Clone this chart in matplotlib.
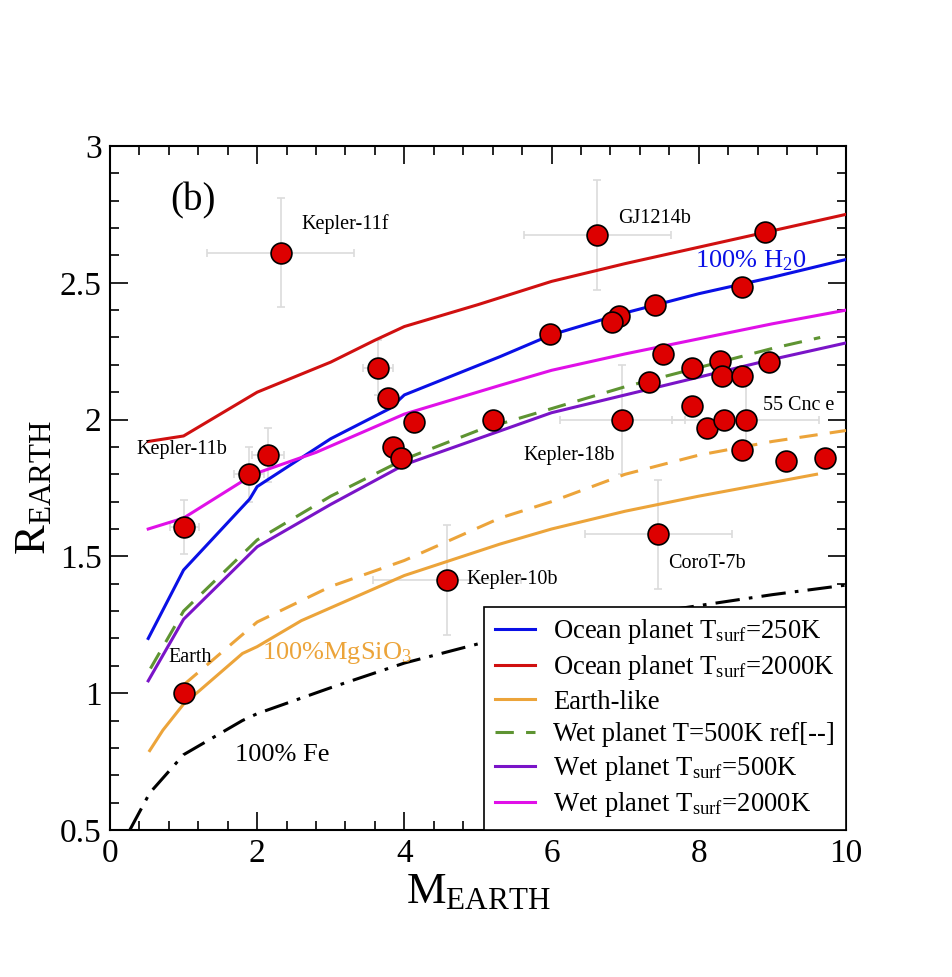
import numpy as np
import matplotlib
matplotlib.use("Agg")
from matplotlib import pyplot as plt

plt.rcParams['font.family'] = ['Liberation Serif', 'DejaVu Serif']
plt.rcParams['mathtext.fontset'] = 'custom'
plt.rcParams['mathtext.rm'] = 'Liberation Serif'
plt.rcParams['mathtext.it'] = 'Liberation Serif:italic'

# model curves (mass in Earth masses, radius in Earth radii)
ocean_250_m = [0.52, 1.0, 1.9, 2.0, 3.0, 3.8, 4.0, 5.3, 6.0, 7.0, 8.0, 9.0, 10.0]
ocean_250_r = [1.20, 1.45, 1.71, 1.755, 1.93, 2.04, 2.09, 2.23, 2.31, 2.39, 2.46, 2.52, 2.585]

ocean_2000_m = [0.52, 1.0, 2.0, 3.0, 3.6, 4.0, 5.0, 6.0, 7.0, 8.0, 9.0, 10.0]
ocean_2000_r = [1.92, 1.94, 2.10, 2.21, 2.29, 2.34, 2.42, 2.505, 2.57, 2.63, 2.69, 2.75]

earth_m = [0.54, 0.72, 1.0, 1.22, 1.8, 2.0, 2.6, 4.0, 5.3, 6.0, 7.0, 8.0, 9.0, 9.6]
earth_r = [0.79, 0.865, 0.96, 1.01, 1.145, 1.17, 1.265, 1.43, 1.545, 1.60, 1.665, 1.72, 1.77, 1.80]

earth_ref_m = [1.0, 2.0, 3.0, 4.0, 5.3, 6.0, 7.0, 8.0, 9.0, 10.0]
earth_ref_r = [1.03, 1.26, 1.39, 1.485, 1.64, 1.70, 1.80, 1.87, 1.92, 1.96]

wet_ref_m = [0.55, 1.0, 2.0, 3.0, 4.0, 5.0, 6.0, 7.0, 8.0, 9.0, 9.65]
wet_ref_r = [1.09, 1.30, 1.56, 1.72, 1.855, 1.96, 2.04, 2.12, 2.19, 2.26, 2.30]

wet_500_m = [0.52, 1.0, 2.0, 3.0, 4.0, 5.0, 6.0, 7.0, 8.0, 9.0, 10.0]
wet_500_r = [1.045, 1.27, 1.535, 1.69, 1.835, 1.93, 2.025, 2.09, 2.155, 2.22, 2.28]

wet_2000_m = [0.52, 1.0, 1.95, 2.8, 4.0, 5.3, 6.0, 7.0, 8.0, 9.0, 10.0]
wet_2000_r = [1.60, 1.64, 1.80, 1.88, 2.02, 2.125, 2.18, 2.24, 2.295, 2.35, 2.40]

fe_m = [0.27, 0.54, 1.0, 1.8, 2.0, 3.0, 4.0, 5.0, 6.0, 7.0, 8.0, 9.0, 10.0]
fe_r = [0.50, 0.635, 0.775, 0.90, 0.925, 1.02, 1.11, 1.18, 1.23, 1.28, 1.32, 1.36, 1.395]

# observed planets
planet_m = [2.32, 6.62, 8.90, 8.59, 7.40, 6.92, 6.82, 5.98, 7.51, 7.91, 8.29, 8.32, 8.59,
            8.95, 7.32, 7.91, 6.96, 8.11, 8.34, 8.64, 8.59, 9.19, 9.71, 5.21, 1.89, 2.15,
            1.01, 1.0, 4.58, 7.45, 3.64, 3.78, 4.13, 3.84, 3.95]
planet_r = [2.61, 2.675, 2.686, 2.485, 2.42, 2.38, 2.357, 2.313, 2.24, 2.19, 2.214, 2.16, 2.16,
            2.21, 2.137, 2.05, 2.0, 1.97, 2.0, 2.0, 1.89, 1.85, 1.86, 2.0, 1.80, 1.87,
            1.607, 1.0, 1.414, 1.58, 2.19, 2.08, 1.99, 1.90, 1.86]

# planets with error bars: mass, radius, mass err, radius err
err_m = [2.32, 6.62, 6.96, 8.64, 7.45, 4.58, 1.89, 2.15, 1.01, 3.64]
err_r = [2.61, 2.675, 2.0, 2.0, 1.58, 1.414, 1.80, 1.87, 1.607, 2.19]
err_dm = [1.0, 1.0, 0.85, 1.0, 1.0, 1.0, 0.2, 0.22, 0.2, 0.2]
err_dr = [0.2, 0.2, 0.2, 0.13, 0.2, 0.2, 0.1, 0.1, 0.1, 0.1]

fig = plt.figure(figsize=(9.52, 9.77), dpi=100)
ax = fig.add_axes([0.1155, 0.1505, 0.7731, 0.7001])

lw = 2.2
ax.errorbar(err_m, err_r, xerr=err_dm, yerr=err_dr, fmt='none', ecolor='#dcdcdc',
            elinewidth=1.2, capsize=3, capthick=1.2, zorder=1)

ax.plot(ocean_250_m, ocean_250_r, color='#0a10e6', lw=lw, label=r'Ocean planet T$_{\mathrm{surf}}$=250K', zorder=3)
ax.plot(ocean_2000_m, ocean_2000_r, color='#d01010', lw=lw, label=r'Ocean planet T$_{\mathrm{surf}}$=2000K', zorder=3)
ax.plot(earth_m, earth_r, color='#eca43a', lw=lw, label='Earth-like', zorder=3)
ax.plot(wet_ref_m, wet_ref_r, color='#5e9432', lw=lw, dashes=(6, 4), label='Wet planet T=500K ref[--]', zorder=3)
ax.plot(wet_500_m, wet_500_r, color='#7a14c8', lw=lw, label=r'Wet planet T$_{\mathrm{surf}}$=500K', zorder=3)
ax.plot(wet_2000_m, wet_2000_r, color='#e010e8', lw=lw, label=r'Wet planet T$_{\mathrm{surf}}$=2000K', zorder=3)
ax.plot(earth_ref_m, earth_ref_r, color='#eca43a', lw=lw, dashes=(6, 4), zorder=3)
ax.plot(fe_m, fe_r, color='black', lw=lw, dashes=(8, 3, 1.2, 3), zorder=3)

ax.plot(planet_m, planet_r, 'o', ms=15, mfc='#dd0000', mec='black', mew=1.2, zorder=4)

tsmall = 14.5
ax.text(1.13, 2.80, '(b)', fontsize=28, ha='center', va='center')
ax.text(2.6, 2.715, 'Kepler-11f', fontsize=tsmall, va='center')
ax.text(6.9, 2.735, 'GJ1214b', fontsize=tsmall, va='center')
ax.text(7.95, 2.58, r'100% H$_2$0', fontsize=19, color='#0a10e6', va='center')
ax.text(8.87, 2.05, '55 Cnc e', fontsize=tsmall, va='center')
ax.text(5.62, 1.87, 'Kepler-18b', fontsize=tsmall, va='center')
ax.text(0.36, 1.89, 'Kepler-11b', fontsize=tsmall, va='center')
ax.text(0.8, 1.13, 'Earth', fontsize=tsmall, va='center')
ax.text(2.07, 1.145, r'100%MgSiO$_3$', fontsize=19, color='#eca43a', va='center')
ax.text(1.7, 0.775, '100% Fe', fontsize=19, va='center')
ax.text(4.85, 1.415, 'Kepler-10b', fontsize=tsmall, va='center')
ax.text(7.58, 1.475, 'CoroT-7b', fontsize=tsmall, va='center')

ax.set_xlim(0, 10)
ax.set_ylim(0.5, 3)
ax.set_xticks([0, 2, 4, 6, 8, 10])
ax.set_xticks(np.arange(0, 10.01, 0.4), minor=True)
ax.set_yticks([0.5, 1, 1.5, 2, 2.5, 3])
ax.set_yticklabels(['0.5', '1', '1.5', '2', '2.5', '3'])
ax.set_yticks(np.arange(0.5, 3.001, 0.1), minor=True)
ax.tick_params(which='both', direction='in', top=True, right=True, labelsize=24, width=1.2)
ax.tick_params(which='major', length=13, pad=6)
ax.tick_params(which='minor', length=6.5)
for spine in ax.spines.values():
    spine.set_linewidth(1.5)

ax.set_xlabel(r'M$_{\mathrm{EARTH}}$', fontsize=32, labelpad=2)
ax.set_ylabel(r'R$_{\mathrm{EARTH}}$', fontsize=32, labelpad=4)

leg = ax.legend(loc='lower right', fontsize=19.2, frameon=True, fancybox=False, edgecolor='black',
                framealpha=1, borderaxespad=0, handlelength=1.5, handletextpad=0.7,
                labelspacing=0.27, borderpad=0.4, handleheight=0.7)
leg.get_frame().set_linewidth(1.2)

plt.savefig('out.png', dpi=100)
